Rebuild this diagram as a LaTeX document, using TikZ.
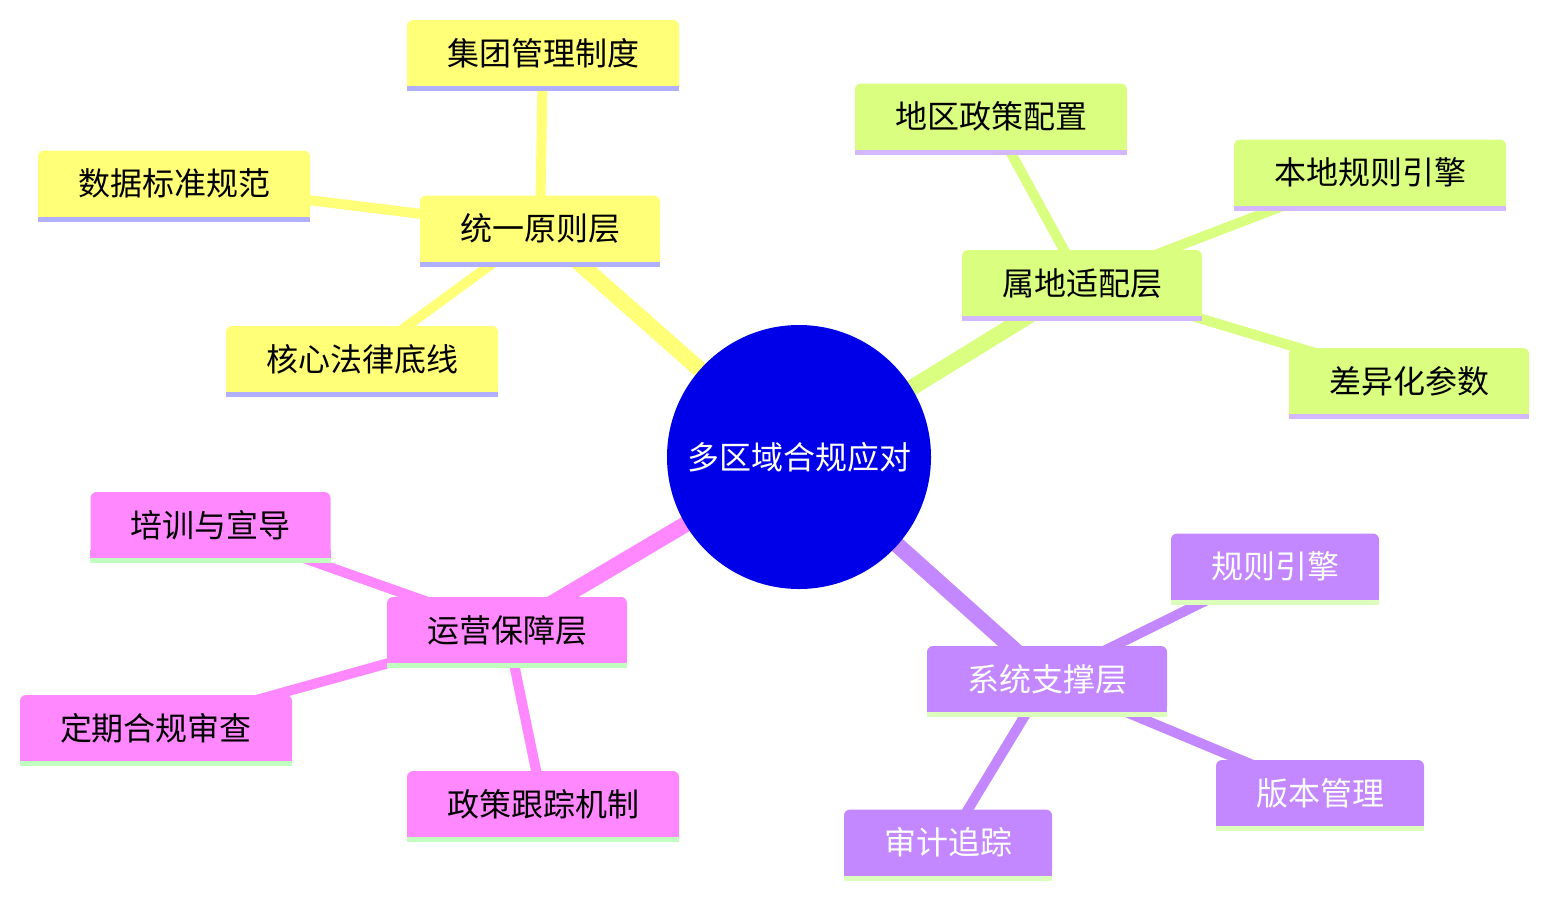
\documentclass[tikz,border=0pt]{standalone}
\usepackage{fontspec}
\setmainfont{Noto Sans CJK SC}
\usetikzlibrary{backgrounds}

\definecolor{rootblue}{HTML}{0000E8}
\definecolor{secA}{HTML}{FFFF78}
\definecolor{lineA}{HTML}{B0B0FF}
\definecolor{secB}{HTML}{DAFF80}
\definecolor{lineB}{HTML}{D4B8FF}
\definecolor{secC}{HTML}{C387FF}
\definecolor{lineC}{HTML}{DCFFBC}
\definecolor{secD}{HTML}{FF88FF}
\definecolor{lineD}{HTML}{C0FFC0}

\begin{document}
\begin{tikzpicture}[x=0.5pt, y=-0.5pt,
    every node/.style={font=\fontsize{16}{19}\selectfont},
    box/.style={rounded corners=3pt, minimum height=33pt, inner xsep=20pt, inner ysep=0pt},
    trunk/.style={line width=8pt},
    twig/.style={line width=5pt}]
    \useasboundingbox (0,0) rectangle (1548,896);

    % Root
    \node[circle, fill=rootblue, text=white, minimum size=132pt, inner sep=0pt] (root) at (799,457) {多区域合规应对};

    % Unified principles
    \node[box, fill=secA] (unify) at (540,228.5) {统一原则层};
    \node[box, fill=secA] (group) at (543,53) {集团管理制度};
    \node[box, fill=secA] (datastd) at (174,183.5) {数据标准规范};
    \node[box, fill=secA] (corelaw) at (362,359) {核心法律底线};

    % Local adaptation
    \node[box, fill=secB] (local) at (1082,283) {属地适配层};
    \node[box, fill=secB] (regpolicy) at (991,116.5) {地区政策配置};
    \node[box, fill=secB] (localengine) at (1370,172.5) {本地规则引擎};
    \node[box, fill=secB] (params) at (1409,381) {差异化参数};

    % System support
    \node[box, fill=secC, text=white] (system) at (1047,679) {系统支撑层};
    \node[box, fill=secC, text=white] (rules) at (1275,566.5) {规则引擎};
    \node[box, fill=secC, text=white] (version) at (1320,793) {版本管理};
    \node[box, fill=secC, text=white] (audit) at (948,842.5) {审计追踪};

    % Operations
    \node[box, fill=secD] (ops) at (507,630) {运营保障层};
    \node[box, fill=secD] (training) at (210.5,525) {培训与宣导};
    \node[box, fill=secD] (review) at (156,728) {定期合规审查};
    \node[box, fill=secD] (tracking) at (543,804) {政策跟踪机制};

    % Square bottoms and underlines
    \foreach \n/\f/\l in {unify/secA/lineA, group/secA/lineA, datastd/secA/lineA, corelaw/secA/lineA,
        local/secB/lineB, regpolicy/secB/lineB, localengine/secB/lineB, params/secB/lineB,
        system/secC/lineC, rules/secC/lineC, version/secC/lineC, audit/secC/lineC,
        ops/secD/lineD, training/secD/lineD, review/secD/lineD, tracking/secD/lineD} {
        \fill[\f] ([yshift=4pt]\n.south west) rectangle (\n.south east);
        \fill[\l] (\n.south west) rectangle ([yshift=-2.5pt]\n.south east);
    }

    % Edges
    \begin{pgfonlayer}{background}
        \draw[trunk, secA] (root.center) -- (unify.center);
        \draw[twig, secA] (unify.center) -- (group.center);
        \draw[twig, secA] (unify.center) -- (datastd.center);
        \draw[twig, secA] (unify.center) -- (corelaw.center);

        \draw[trunk, secB] (root.center) -- (local.center);
        \draw[twig, secB] (local.center) -- (regpolicy.center);
        \draw[twig, secB] (local.center) -- (localengine.center);
        \draw[twig, secB] (local.center) -- (params.center);

        \draw[trunk, secC] (root.center) -- (system.center);
        \draw[twig, secC] (system.center) -- (rules.center);
        \draw[twig, secC] (system.center) -- (version.center);
        \draw[twig, secC] (system.center) -- (audit.center);

        \draw[trunk, secD] (root.center) -- (ops.center);
        \draw[twig, secD] (ops.center) -- (training.center);
        \draw[twig, secD] (ops.center) -- (review.center);
        \draw[twig, secD] (ops.center) -- (tracking.center);
    \end{pgfonlayer}
\end{tikzpicture}
\end{document}
